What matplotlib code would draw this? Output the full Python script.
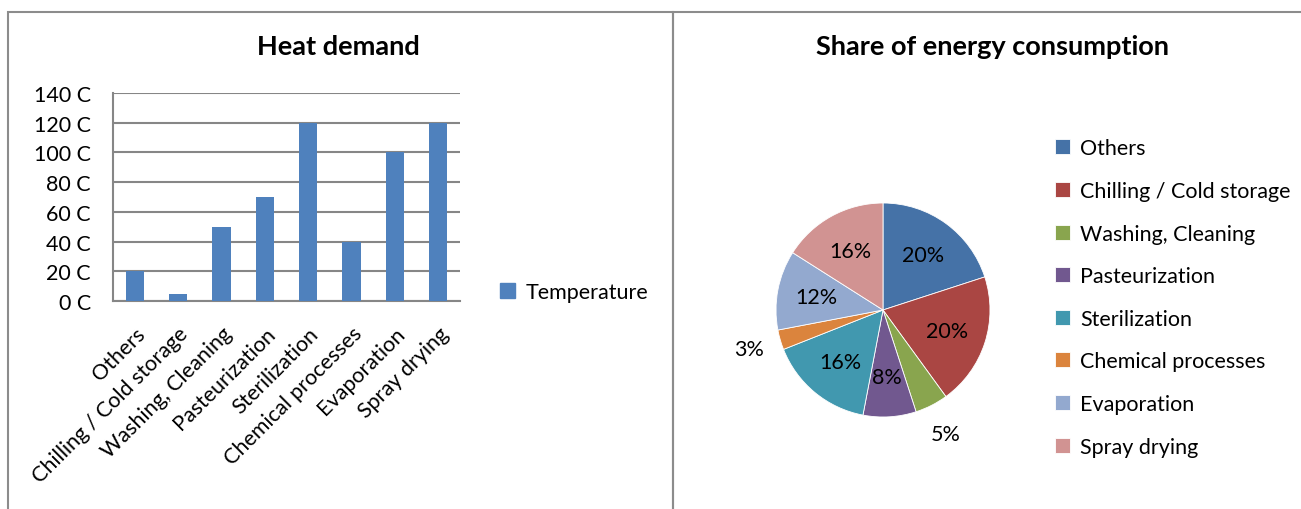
import matplotlib
matplotlib.use("Agg")
import matplotlib.pyplot as plt
from matplotlib.patches import Rectangle, Patch
import numpy as np

plt.rcParams['font.family'] = ['Lato', 'DejaVu Sans']

categories = ["Others", "Chilling / Cold storage", "Washing, Cleaning", "Pasteurization",
              "Sterilization", "Chemical processes", "Evaporation", "Spray drying"]
temperature = [20, 5, 50, 70, 120, 40, 100, 120]
y_ticks = [0, 20, 40, 60, 80, 100, 120, 140]
y_tick_labels = ["0 C", "20 C", "40 C", "60 C", "80 C", "100 C", "120 C", "140 C"]
energy_share = [20, 20, 5, 8, 16, 3, 12, 16]

pie_colors = ["#4572A7", "#AA4643", "#89A54E", "#71588F", "#4198AF", "#DB843D", "#93A9CF", "#D19392"]
bar_color = "#4F81BD"

FS = 15.5
TFS = 19.5

W, H = 1301, 510
fig = plt.figure(figsize=(W / 100, H / 100), dpi=100)

def fx(px):
    return px / W

def fy(py):
    return 1 - py / H

# panel borders
border_col = "#8C8C8C"
fig.patches.append(Rectangle((fx(8), fy(530)), fx(673) - fx(8), fy(13) - fy(530),
                             transform=fig.transFigure, fill=False, edgecolor=border_col, lw=1.5))
fig.patches.append(Rectangle((fx(673), fy(530)), fx(1320) - fx(673), fy(13) - fy(530),
                             transform=fig.transFigure, fill=False, edgecolor=border_col, lw=1.5))

# ---------- Bar chart ----------
ax = fig.add_axes([fx(113), fy(302), fx(460) - fx(113), fy(94) - fy(302)])
x = list(range(len(categories)))
ax.bar(x, temperature, width=0.42, color=bar_color, zorder=3, label="Temperature")
ax.set_xlim(-0.5, len(categories) - 0.5)
ax.set_ylim(0, 140)
ax.set_yticks(y_ticks)
ax.set_yticklabels(y_tick_labels, fontsize=FS)
ax.yaxis.grid(True, color="#868686", lw=1.5, zorder=0)
for s in ["top", "right"]:
    ax.spines[s].set_visible(False)
for s in ["left", "bottom"]:
    ax.spines[s].set_color("#868686")
    ax.spines[s].set_linewidth(1.5)
ax.tick_params(axis="y", length=0, pad=16)
ax.set_xticks(x)
ax.set_xticklabels(categories, rotation=45, ha="right", rotation_mode="anchor", fontsize=FS)
ax.tick_params(axis="x", length=0, pad=16)
fig.text(fx(338), fy(47), "Heat demand", ha="center", va="center", fontsize=TFS, fontweight="bold")
fig.legend(handles=[Patch(color=bar_color, label="Temperature")], loc="center left",
           bbox_to_anchor=(fx(481), fy(293)), frameon=False, fontsize=FS,
           handlelength=0.7, handleheight=0.7, handletextpad=0.45)

# ---------- Pie chart ----------
cx, cy, r = 883, 311, 107
pax = fig.add_axes([fx(cx - r), fy(cy + r), fx(2 * r), fy(0) - fy(2 * r)])
wedges, _ = pax.pie(energy_share, colors=pie_colors, startangle=90, counterclock=False,
                    radius=1, wedgeprops=dict(edgecolor="white", linewidth=0.6))
pax.set_xlim(-1, 1)
pax.set_ylim(-1, 1)
pax.set_aspect("equal")
pax.axis("off")
total = sum(energy_share)
start = 90.0
for v in energy_share:
    mid = start - v / total * 360 / 2
    start -= v / total * 360
    frac = v / total
    dist = 0.63 if frac > 0.06 else 1.3
    pax.text(dist * np.cos(np.radians(mid)), dist * np.sin(np.radians(mid)), f"{v}%",
             ha="center", va="center", fontsize=FS, clip_on=False)
fig.text(fx(993), fy(47), "Share of energy consumption", ha="center", va="center",
         fontsize=TFS, fontweight="bold")
fig.legend(handles=wedges, labels=categories, loc="upper left",
           bbox_to_anchor=(fx(1036), fy(120)), frameon=False, fontsize=FS,
           handlelength=0.7, handleheight=0.7, handletextpad=0.45, labelspacing=1.05)

fig.savefig("out.png", dpi=100)
